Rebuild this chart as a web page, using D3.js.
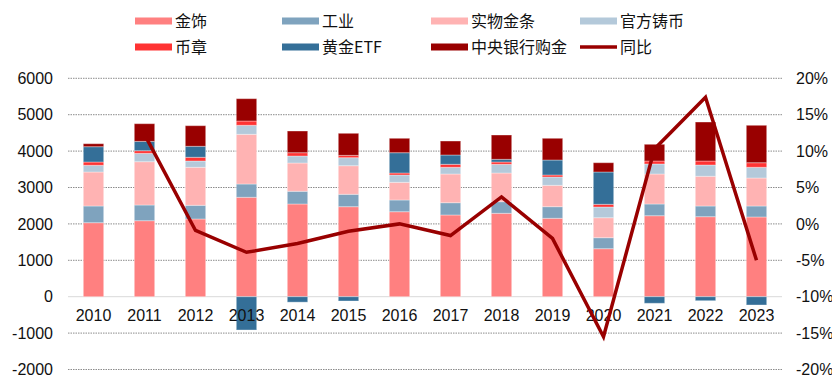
<!DOCTYPE html>
<html><head><meta charset="utf-8">
<script src="https://cdn.jsdelivr.net/npm/d3@7"></script>
<style>body{margin:0;background:#fff}svg{display:block}</style>
</head><body>
<svg id="c" width="832" height="386"></svg>
<script>
const years = ["2010","2011","2012","2013","2014","2015","2016","2017","2018","2019","2020","2021","2022","2023"];
const jewelry = [2033,2088,2135,2731,2547,2473,2335,2245,2291,2154,1319,2225,2198,2190];
const industry = [459,431,376,365,349,340,322,337,319,319,302,322,294,302];
const barsCoins = [934,1190,1044,1365,777,786,485,789,788,587,549,824,816,769];
const officialCoins = [184,229,173,248,192,220,201,184,239,228,294,275,310,294];
const medals = [90,73,102,118,91,64,55,82,63,55,74,82,110,126];
const etf = [421,256,302,-915,-150,-118,558,256,74,412,888,-181,-110,-228];
const centralBank = [82,486,566,613,596,606,396,384,668,597,255,459,1071,1028];
const yoy = [null,12.3,-0.9,-3.9,-2.7,-1.0,0.0,-1.6,3.7,-2.0,-15.5,10.3,17.4,-5.0];
const leftTicks = [-2000,-1000,0,1000,2000,3000,4000,5000,6000];
const rightTicks = [-20,-15,-10,-5,0,5,10,15,20];

const seriesNames = ["金饰","工业","实物金条","官方铸币","币章","黄金ETF","中央银行购金"];
const seriesData = [jewelry,industry,barsCoins,officialCoins,medals,etf,centralBank];
const colors = ["#FF8080","#7FA3BE","#FFB3B3","#B4C9DA","#FF3333","#346F98","#990000"];
const lineName = "同比";
const lineColor = "#990000";

const table = years.map((y,i)=>{const o={year:y};seriesNames.forEach((n,k)=>o[n]=seriesData[k][i]);return o;});

const svg = d3.select("#c");
const L=68,R=782;
const x = d3.scaleBand().domain(years).range([L,R]).paddingInner(0.6).paddingOuter(0.3);
const y = d3.scaleLinear().domain([-2000,6000]).range([369.5,78.3]);
const y2 = d3.scaleLinear().domain([-20,20]).range([369.5,78.3]);

// grid
svg.append("g").selectAll("line").data(leftTicks).join("line")
  .attr("x1",L).attr("x2",R).attr("y1",d=>y(d)).attr("y2",d=>y(d))
  .attr("stroke",d=>d===0?"#d9d9d9":"#8c8c8c")
  .attr("stroke-width",1)
  .attr("stroke-dasharray",d=>d===0?null:"1.5,1");

// bars
const stack = d3.stack().keys(seriesNames).offset(d3.stackOffsetDiverging)(table);
svg.append("g").selectAll("g").data(stack).join("g").attr("fill",(d,i)=>colors[i])
  .selectAll("rect").data(d=>d).join("rect")
  .attr("x",d=>x(d.data.year)).attr("width",x.bandwidth())
  .attr("y",d=>y(Math.max(d[0],d[1]))).attr("height",d=>Math.abs(y(d[0])-y(d[1])))
  .attr("stroke","rgba(255,255,255,0.35)").attr("stroke-width",1);

const font = "'Liberation Sans', Arial, sans-serif";
// left axis
const ga = svg.append("g").attr("transform",`translate(${L},0)`)
  .call(d3.axisLeft(y).tickValues(leftTicks).tickSize(0).tickPadding(15).tickFormat(d=>String(d)));
ga.select(".domain").remove();
ga.selectAll("text").attr("font-family",font).attr("font-size",16).attr("fill","#111");
// right axis
const gr = svg.append("g").attr("transform",`translate(${R},0)`)
  .call(d3.axisRight(y2).tickValues(rightTicks).tickSize(0).tickPadding(14).tickFormat(d=>String(d)+"%"));
gr.select(".domain").remove();
gr.selectAll("text").attr("font-family",font).attr("font-size",16).attr("fill","#111");
// bottom axis
const gb = svg.append("g").attr("transform",`translate(0,${y(0)})`)
  .call(d3.axisBottom(x).tickSize(0).tickPadding(13));
gb.select(".domain").remove();
gb.selectAll("text").attr("font-family",font).attr("font-size",16).attr("fill","#111");

// line
const lineGen = d3.line().defined(d=>d.v!==null).x(d=>x(d.year)+x.bandwidth()/2).y(d=>y2(d.v));
svg.append("path").datum(years.map((yr,i)=>({year:yr,v:yoy[i]})))
  .attr("d",lineGen).attr("fill","none").attr("stroke",lineColor).attr("stroke-width",3.5)
  .attr("stroke-linejoin","miter");

// legend
const legendItems = seriesNames.map((n,i)=>({name:n,color:colors[i],type:"rect"})).concat([{name:lineName,color:lineColor,type:"line"}]);
const colX = [135,282,431,580], rowY = [21,47];
const lg = svg.append("g").selectAll("g").data(legendItems).join("g")
  .attr("transform",(d,i)=>`translate(${colX[i%4]},${rowY[Math.floor(i/4)]})`);
lg.filter(d=>d.type==="rect").append("rect").attr("x",0).attr("y",-3.5).attr("width",37).attr("height",7).attr("fill",d=>d.color);
lg.filter(d=>d.type==="line").append("line").attr("x1",0).attr("x2",37).attr("y1",0).attr("y2",0).attr("stroke",d=>d.color).attr("stroke-width",3.5);
lg.append("text").attr("x",40).attr("y",0).attr("dy","0.35em").text(d=>d.name)
  .attr("font-family","'Noto Sans CJK SC', sans-serif").attr("font-size",16).attr("fill","#111");
</script>
</body></html>
